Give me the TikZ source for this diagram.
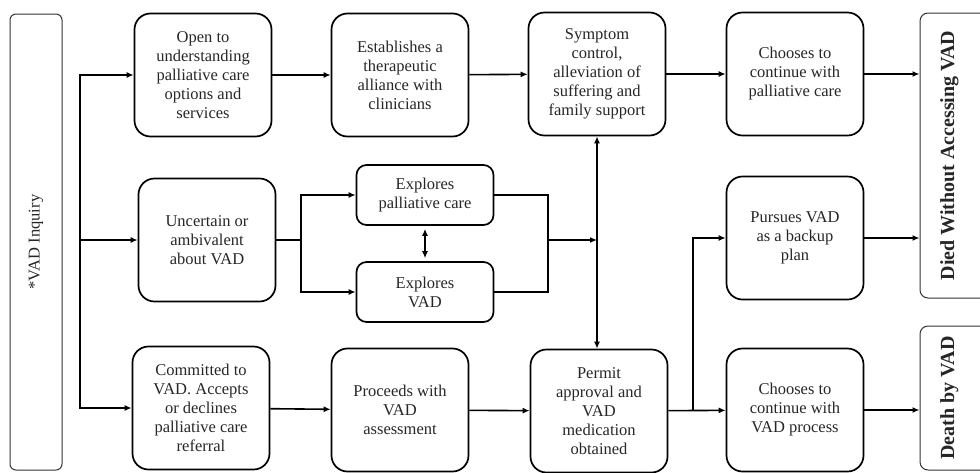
\documentclass[tikz,border=0pt]{standalone}
\usepackage{fontspec}
\setmainfont{Liberation Serif}
\usepackage{tikz}
\usetikzlibrary{arrows.meta}
\tikzset{%
  stage/.style   = {shape=rectangle, rounded corners=16pt, draw, line width=1.7pt,%
                    align=center, text=black!85, inner sep=2pt,%
                    minimum width=137pt, minimum height=123pt,%
                    font=\fontsize{16.5}{19}\selectfont},%
  explore/.style = {stage, rounded corners=10pt, minimum height=60pt},%
  side/.style    = {shape=rectangle, rounded corners=8pt, draw=black!80,%
                    line width=1pt, rotate=90, text=black!85},%
  outcome/.style = {side, font=\bfseries\fontsize{20}{24}\selectfont,%
                    inner xsep=0pt, inner ysep=6pt, text height=28pt, text depth=30pt},%
  flow/.style    = {draw, line width=1.6pt, -{Latex[length=7pt,width=6pt]}},%
  twoway/.style  = {flow, {Latex[length=7pt,width=6pt]}-{Latex[length=7pt,width=6pt]}}%
}
\begin{document}
\begin{tikzpicture}[x=1pt, y=-1pt]
  \clip (0,0) rectangle (980,472);
  \node (inquiry) at (36,242) [side, minimum width=456pt, minimum height=52pt,
        rounded corners=6pt, font=\fontsize{16.5}{20}\selectfont] {*VAD Inquiry};

  \node (open) at (203,75) [stage] {Open to\\understanding\\palliative care\\options and\\services};
  \node (uncertain) at (207,240) [stage] {Uncertain or\\ambivalent\\about VAD};
  \node (committed) at (201,408) [stage] {Committed to\\VAD. Accepts\\or declines\\palliative care\\referral};

  \node (alliance) at (400,75) [stage] {Establishes a\\therapeutic\\alliance with\\clinicians};
  \node (explpc) at (425,195) [explore] {Explores\\palliative care};
  \node (explvad) at (425,292) [explore] {Explores\\VAD};
  \node (assess) at (400,410) [stage] {Proceeds with\\VAD\\assessment};

  \node (symptom) at (597,74) [stage] {Symptom\\control,\\alleviation of\\suffering and\\family support};
  \node (permit) at (599,411) [stage] {Permit\\approval and\\VAD\\medication\\obtained};

  \node (stayspc) at (795,74) [stage] {Chooses to\\continue with\\palliative care};
  \node (backup) at (795,238) [stage] {Pursues VAD\\as a backup\\plan};
  \node (staysvad) at (795,410) [stage] {Chooses to\\continue with\\VAD process};

  \node (died) at (955,155.5) [outcome, minimum width=285pt] {Died Without Accessing VAD};
  \node (death) at (955,398) [outcome, minimum width=144pt] {Death by VAD};

  \coordinate (trunk) at (80,240);
  \coordinate (fork) at (301,240);
  \coordinate (merge) at (548,240);
  \coordinate (branch) at (693,410);

  \draw[flow] (trunk) |- (open.west);
  \draw[flow] (trunk) -- (uncertain.west);
  \draw[flow] (trunk) |- (committed.west);

  \draw[flow] (open) -- (alliance);
  \draw[flow] (alliance) -- (symptom);
  \draw[flow] (symptom) -- (stayspc);
  \draw[flow] (stayspc) -- (stayspc -| died.north);

  \draw[line width=1.6pt] (uncertain.east) -- (fork);
  \draw[flow] (fork) |- (explpc.west);
  \draw[flow] (fork) |- (explvad.west);
  \draw[twoway, shorten <=3pt, shorten >=3pt] (explpc) -- (explvad);
  \draw[line width=1.6pt] (explpc.east) -| (merge) |- (explvad.east);
  \draw[flow] (merge) -- (merge -| symptom.south);
  \draw[twoway] (symptom.south) -- (symptom.south |- permit.north);

  \draw[flow] (committed) -- (assess);
  \draw[flow] (assess) -- (permit);
  \draw[flow] (permit) -- (staysvad);
  \draw[flow] (branch) |- (backup.west);
  \draw[flow] (backup) -- (backup -| died.north);
  \draw[flow] (staysvad) -- (staysvad -| death.north);
\end{tikzpicture}
\end{document}
